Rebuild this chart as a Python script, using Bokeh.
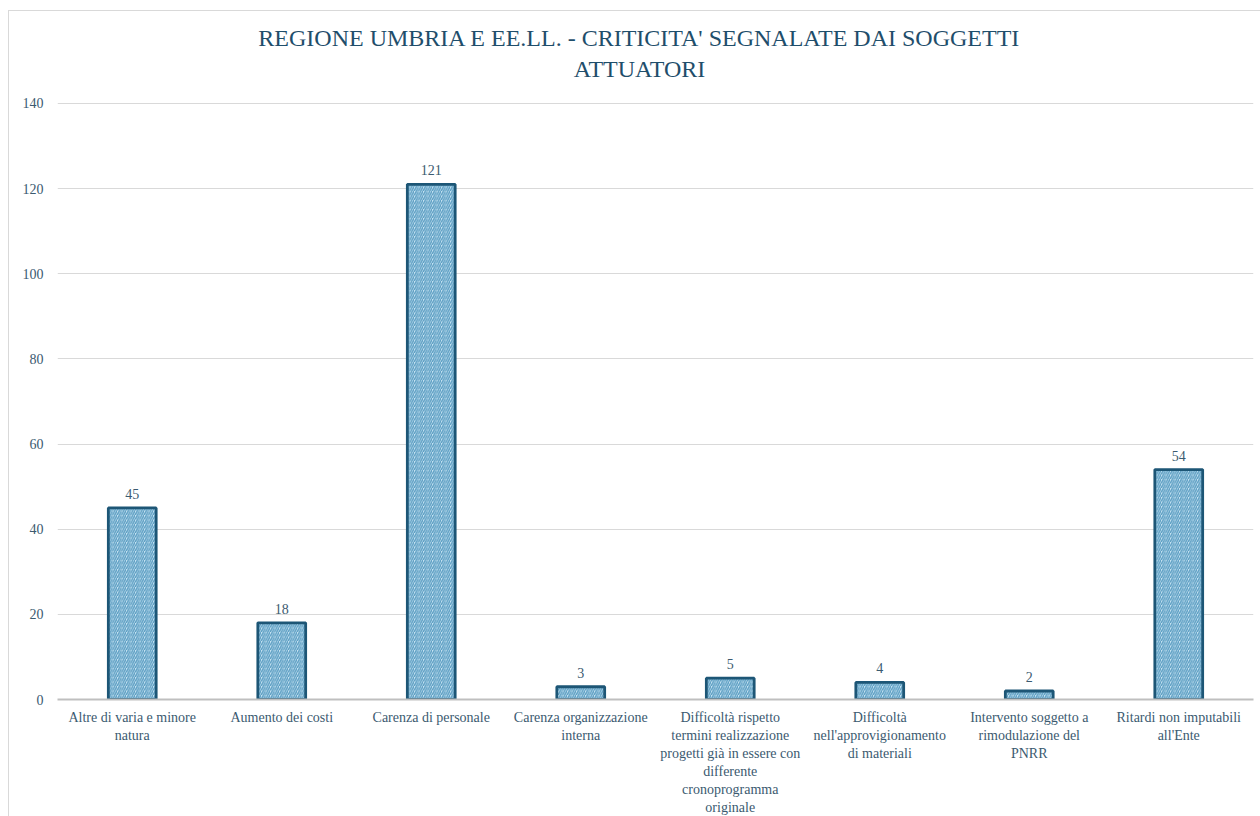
from bokeh.plotting import figure
from bokeh.models import ColumnDataSource, LabelSet, FixedTicker
from bokeh.embed import file_html
from bokeh.resources import INLINE

categories = [
    "Altre di varia e minore\nnatura",
    "Aumento dei costi",
    "Carenza di personale",
    "Carenza organizzazione\ninterna",
    "Difficoltà rispetto\ntermini realizzazione\nprogetti già in essere con\ndifferente\ncronoprogramma\noriginale",
    "Difficoltà\nnell'approvigionamento\ndi materiali",
    "Intervento soggetto a\nrimodulazione del\nPNRR",
    "Ritardi non imputabili\nall'Ente",
]
values = [45, 18, 121, 3, 5, 4, 2, 54]
y_ticks = [0, 20, 40, 60, 80, 100, 120, 140]
title_lines = ["REGIONE UMBRIA E EE.LL. - CRITICITA' SEGNALATE DAI SOGGETTI", "ATTUATORI"]

FONT = "Liberation Serif"
TITLE_FONT = "serif"
TEXT = "#3B5A70"
TITLE_COLOR = "#1F4E6B"

src = ColumnDataSource(dict(cat=categories, val=values, lab=[str(v) for v in values]))

# the frame reaches up to the top of the chart; the area above 140 holds the title
p = figure(
    x_range=categories, y_range=(0, 161.6),
    width=1252, height=806,
    output_backend="svg", toolbar_location=None,
    min_border_left=48, min_border_right=8, min_border_top=0, min_border_bottom=114,
)
p.styles = {"border-top": "1px solid #D9D9D9", "border-left": "1px solid #D9D9D9",
            "box-sizing": "border-box", "margin-left": "8px", "margin-top": "10px"}

n = len(categories)
title_src = ColumnDataSource(dict(x=[n / 2, n / 2], y=[155.3, 148.2], t=title_lines))
p.add_layout(LabelSet(x="x", y="y", text="t", source=title_src, text_align="center",
                      text_baseline="middle", x_offset=-16, text_font=TITLE_FONT,
                      text_font_size="24px", text_color=TITLE_COLOR))

p.vbar(x="cat", top="val", width=0.32, source=src,
       fill_color="#C8E4F3", line_color="#1D5676", line_width=2.8,
       hatch_pattern="/", hatch_color="#5B9DC2", hatch_scale=4.5, hatch_weight=1.4)

labels = LabelSet(x="cat", y="val", text="lab", source=src, text_align="center",
                  text_baseline="bottom", y_offset=9, text_font=FONT,
                  text_font_size="14px", text_color=TEXT)
p.add_layout(labels)

p.outline_line_color = None
p.xgrid.grid_line_color = None
p.ygrid.grid_line_color = "#D9D9D9"
p.ygrid.grid_line_width = 1

p.yaxis.ticker = FixedTicker(ticks=y_ticks)
p.yaxis.axis_line_color = None
p.yaxis.major_tick_line_color = None
p.yaxis.minor_tick_line_color = None
p.yaxis.major_tick_out = 0
p.yaxis.major_label_standoff = 14
p.yaxis.major_label_text_font = FONT
p.yaxis.major_label_text_font_size = "14px"
p.yaxis.major_label_text_color = TEXT

p.xaxis.axis_line_color = "#BFBFBF"
p.xaxis.axis_line_width = 2
p.xaxis.major_tick_line_color = None
p.xaxis.major_tick_out = 0
p.xaxis.major_label_standoff = 10
p.xaxis.major_label_text_font = FONT
p.xaxis.major_label_text_font_size = "14px"
p.xaxis.major_label_text_color = TEXT
p.xaxis.major_label_text_line_height = 1.2

open("out.html", "w").write(file_html(p, INLINE))
